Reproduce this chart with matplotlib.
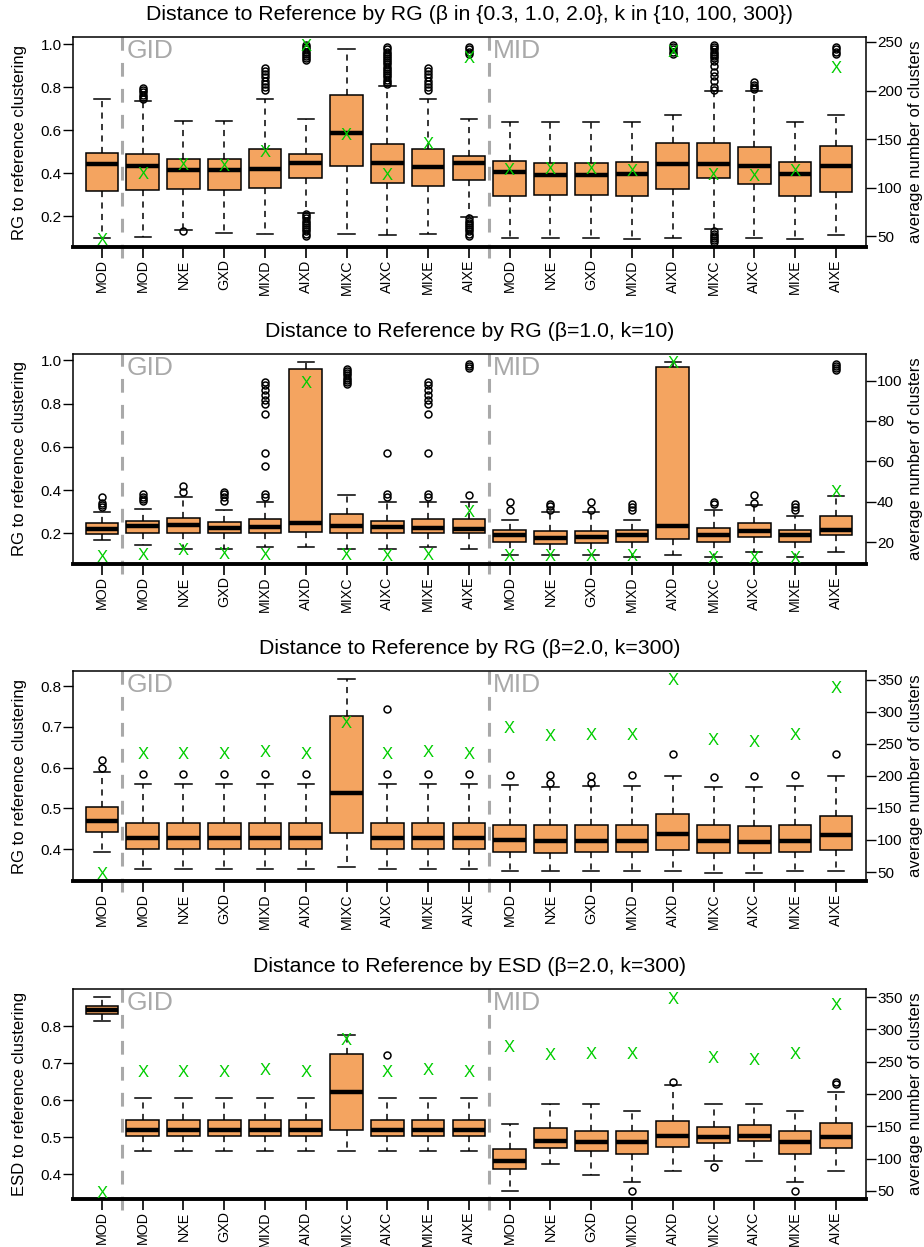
"""Distance-to-reference boxplots, four stacked panels with a cluster-count axis."""

import matplotlib

matplotlib.use("Agg")

import matplotlib.pyplot as plt
from matplotlib.transforms import blended_transform_factory

plt.rcParams["font.family"] = ["Liberation Sans", "DejaVu Sans"]

COLORS = {"box": "#F4A460", "x": "#00CD00", "group": "#A9A9A9"}

LABELS = ["MOD", "MOD", "NXE", "GXD", "MIXD", "AIXD", "MIXC", "AIXC", "MIXE", "AIXE",
          "MOD", "NXE", "GXD", "MIXD", "AIXD", "MIXC", "AIXC", "MIXE", "AIXE"]
POSITIONS = list(range(1, 20))
GROUP_SPLITS = [1.5, 10.5]
GROUP_NAMES = ["GID", "MID"]

# ---- panel 1: RG, beta in {0.3, 1.0, 2.0}, k in {10, 100, 300}
P1_WLO = [0.099, 0.106, 0.137, 0.124, 0.118, 0.217, 0.118, 0.112, 0.118, 0.197,
          0.101, 0.101, 0.101, 0.095, 0.101, 0.140, 0.101, 0.095, 0.113]
P1_Q1 = [0.316, 0.321, 0.328, 0.322, 0.333, 0.378, 0.434, 0.355, 0.341, 0.367,
         0.294, 0.298, 0.297, 0.294, 0.327, 0.376, 0.349, 0.294, 0.311]
P1_MED = [0.445, 0.432, 0.417, 0.414, 0.421, 0.448, 0.588, 0.449, 0.429, 0.446,
          0.404, 0.393, 0.393, 0.397, 0.443, 0.441, 0.432, 0.397, 0.435]
P1_Q3 = [0.496, 0.488, 0.466, 0.466, 0.511, 0.489, 0.763, 0.534, 0.511, 0.482,
         0.457, 0.449, 0.449, 0.452, 0.542, 0.539, 0.522, 0.454, 0.527]
P1_WHI = [0.743, 0.735, 0.641, 0.641, 0.746, 0.653, 0.978, 0.804, 0.746, 0.653,
          0.639, 0.639, 0.639, 0.639, 0.672, 0.780, 0.780, 0.639, 0.672]
P1_FLIERS = [
    [],
    [0.745, 0.755, 0.765, 0.775, 0.785, 0.795],
    [0.130],
    [],
    [0.785, 0.80, 0.815, 0.83, 0.845, 0.86, 0.875, 0.89],
    [0.11, 0.12, 0.13, 0.14, 0.15, 0.16, 0.17, 0.18, 0.19, 0.20, 0.21,
     0.925, 0.935, 0.945, 0.955, 0.965, 0.975, 0.985, 0.995],
    [],
    [0.815, 0.825, 0.835, 0.845, 0.855, 0.865, 0.875, 0.885, 0.895, 0.905,
     0.915, 0.925, 0.935, 0.945, 0.955, 0.965, 0.975, 0.985],
    [0.785, 0.80, 0.815, 0.83, 0.845, 0.86, 0.875, 0.89],
    [0.11, 0.12, 0.13, 0.14, 0.15, 0.16, 0.17, 0.18, 0.19,
     0.955, 0.965, 0.975, 0.985],
    [], [], [], [],
    [0.955, 0.965, 0.975, 0.985, 0.995],
    [0.08, 0.09, 0.10, 0.11, 0.12, 0.13, 0.785, 0.80, 0.83, 0.85, 0.87, 0.90,
     0.92, 0.935, 0.945, 0.955, 0.965, 0.975, 0.985, 0.995],
    [0.79, 0.80, 0.81, 0.825],
    [],
    [0.955, 0.965, 0.975, 0.985],
]
P1_CLUSTERS = [47.6, 115.2, 124.8, 123.4, 137.5, 246.6, 155.3, 113.8, 146.1, 234.6,
               119.6, 120.7, 120.7, 117.9, 240.4, 114.5, 112.8, 117.9, 224.3]

# ---- panel 2: RG, beta=1.0, k=10
P2_WLO = [0.169, 0.145, 0.129, 0.129, 0.137, 0.137, 0.129, 0.129, 0.137, 0.129,
          0.102, 0.102, 0.102, 0.093, 0.102, 0.093, 0.114, 0.093, 0.114]
P2_Q1 = [0.197, 0.203, 0.202, 0.200, 0.202, 0.206, 0.202, 0.200, 0.202, 0.200,
         0.159, 0.152, 0.155, 0.159, 0.174, 0.160, 0.185, 0.160, 0.192]
P2_MED = [0.222, 0.232, 0.237, 0.225, 0.231, 0.248, 0.232, 0.228, 0.225, 0.222,
          0.194, 0.180, 0.185, 0.191, 0.232, 0.194, 0.212, 0.194, 0.217]
P2_Q3 = [0.246, 0.257, 0.269, 0.255, 0.265, 0.962, 0.292, 0.258, 0.265, 0.266,
         0.218, 0.212, 0.212, 0.217, 0.968, 0.223, 0.246, 0.217, 0.281]
P2_WHI = [0.300, 0.315, 0.370, 0.306, 0.346, 0.991, 0.378, 0.346, 0.346, 0.346,
          0.263, 0.297, 0.297, 0.263, 0.992, 0.309, 0.332, 0.281, 0.375]
P2_FLIERS = [
    [0.32, 0.33, 0.34, 0.37],
    [0.35, 0.36, 0.37, 0.38],
    [0.39, 0.417],
    [0.35, 0.37, 0.38, 0.39],
    [0.37, 0.38, 0.51, 0.573, 0.75, 0.80, 0.816, 0.839, 0.862, 0.885, 0.90],
    [],
    [0.89, 0.90, 0.91, 0.92, 0.93, 0.94, 0.95, 0.96],
    [0.37, 0.38, 0.573],
    [0.37, 0.38, 0.573, 0.75, 0.80, 0.816, 0.839, 0.862, 0.885, 0.90],
    [0.378, 0.965, 0.975, 0.985],
    [0.306, 0.347],
    [0.31, 0.325, 0.337],
    [0.31, 0.347],
    [0.306, 0.32, 0.335],
    [],
    [0.335, 0.347],
    [0.34, 0.378],
    [0.31, 0.32, 0.335],
    [0.955, 0.965, 0.975, 0.985],
]
P2_CLUSTERS = [13.1, 14.4, 16.9, 14.7, 14.2, 99.2, 14.4, 13.9, 14.2, 35.3,
               13.9, 13.9, 13.9, 13.9, 109.2, 12.9, 12.9, 12.9, 45.6]

# ---- panel 3: RG, beta=2.0, k=300
P3_WLO = [0.394, 0.352, 0.352, 0.352, 0.352, 0.352, 0.357, 0.352, 0.352, 0.352,
          0.345, 0.345, 0.345, 0.345, 0.345, 0.341, 0.341, 0.345, 0.345]
P3_Q1 = [0.443, 0.400, 0.400, 0.400, 0.400, 0.400, 0.440, 0.400, 0.400, 0.400,
         0.394, 0.391, 0.392, 0.392, 0.398, 0.391, 0.390, 0.392, 0.398]
P3_MED = [0.468, 0.427, 0.427, 0.427, 0.427, 0.427, 0.538, 0.427, 0.427, 0.427,
          0.422, 0.419, 0.419, 0.420, 0.436, 0.419, 0.417, 0.420, 0.434]
P3_Q3 = [0.503, 0.465, 0.465, 0.465, 0.465, 0.465, 0.726, 0.465, 0.465, 0.465,
         0.460, 0.458, 0.458, 0.458, 0.485, 0.458, 0.456, 0.458, 0.481]
P3_WHI = [0.589, 0.561, 0.561, 0.561, 0.561, 0.561, 0.819, 0.561, 0.561, 0.561,
          0.558, 0.553, 0.555, 0.554, 0.580, 0.553, 0.552, 0.554, 0.580]
P3_FLIERS = [
    [0.598, 0.619],
    [0.585], [0.585], [0.585], [0.585], [0.585],
    [],
    [0.585, 0.743], [0.585], [0.585],
    [0.581], [0.562, 0.581], [0.563, 0.58], [0.583], [0.633],
    [0.578], [0.579], [0.582], [0.633],
]
P3_CLUSTERS = [47.9, 235.0, 235.0, 235.0, 238.1, 235.0, 284.7, 235.0, 238.1, 235.0,
               275.9, 263.0, 266.0, 266.0, 351.5, 256.7, 253.6, 266.0, 339.0]

# ---- panel 4: ESD, beta=2.0, k=300
P4_WLO = [0.813, 0.462, 0.462, 0.462, 0.462, 0.462, 0.462, 0.462, 0.462, 0.462,
          0.354, 0.429, 0.399, 0.380, 0.409, 0.436, 0.437, 0.380, 0.409]
P4_Q1 = [0.832, 0.504, 0.504, 0.504, 0.504, 0.504, 0.519, 0.504, 0.504, 0.504,
         0.414, 0.470, 0.464, 0.454, 0.473, 0.485, 0.489, 0.454, 0.470]
P4_MED = [0.844, 0.520, 0.520, 0.520, 0.520, 0.520, 0.622, 0.520, 0.520, 0.520,
          0.436, 0.491, 0.487, 0.487, 0.503, 0.501, 0.504, 0.487, 0.501]
P4_Q3 = [0.854, 0.547, 0.547, 0.547, 0.547, 0.547, 0.724, 0.547, 0.547, 0.547,
         0.467, 0.524, 0.516, 0.516, 0.543, 0.528, 0.534, 0.516, 0.538]
P4_WHI = [0.878, 0.606, 0.606, 0.606, 0.606, 0.606, 0.775, 0.606, 0.606, 0.606,
          0.537, 0.590, 0.590, 0.571, 0.640, 0.589, 0.590, 0.571, 0.622]
P4_FLIERS = [
    [], [], [], [], [], [], [],
    [0.723], [], [],
    [], [], [],
    [0.354], [0.650], [0.421], [], [0.354], [0.643, 0.650],
]
P4_CLUSTERS = [47.9, 235.6, 235.6, 235.6, 238.7, 235.6, 284.5, 235.6, 238.7, 235.6,
               273.7, 262.4, 263.9, 263.9, 349.0, 256.7, 253.6, 263.9, 338.7]

PANELS = [
    dict(title="Distance to Reference by RG (\u03b2 in {0.3, 1.0, 2.0}, k in {10, 100, 300})",
         ylabel="RG to reference clustering",
         stats=(P1_WLO, P1_Q1, P1_MED, P1_Q3, P1_WHI, P1_FLIERS), clusters=P1_CLUSTERS,
         yticks=[0.2, 0.4, 0.6, 0.8, 1.0], ylim=(0.0576, 1.0325),
         rticks=[50, 100, 150, 200, 250], rlim=(39.0, 255.1), top=37),
    dict(title="Distance to Reference by RG (\u03b2=1.0, k=10)",
         ylabel="RG to reference clustering",
         stats=(P2_WLO, P2_Q1, P2_MED, P2_Q3, P2_WHI, P2_FLIERS), clusters=P2_CLUSTERS,
         yticks=[0.2, 0.4, 0.6, 0.8, 1.0], ylim=(0.0587, 1.029),
         rticks=[20, 40, 60, 80, 100], rlim=(9.3, 113.1), top=354),
    dict(title="Distance to Reference by RG (\u03b2=2.0, k=300)",
         ylabel="RG to reference clustering",
         stats=(P3_WLO, P3_Q1, P3_MED, P3_Q3, P3_WHI, P3_FLIERS), clusters=P3_CLUSTERS,
         yticks=[0.4, 0.5, 0.6, 0.7, 0.8], ylim=(0.3216, 0.8375),
         rticks=[50, 100, 150, 200, 250, 300, 350], rlim=(36.0, 363.5), top=671),
    dict(title="Distance to Reference by ESD (\u03b2=2.0, k=300)",
         ylabel="ESD to reference clustering",
         stats=(P4_WLO, P4_Q1, P4_MED, P4_Q3, P4_WHI, P4_FLIERS), clusters=P4_CLUSTERS,
         yticks=[0.4, 0.5, 0.6, 0.7, 0.8], ylim=(0.3335, 0.8998),
         rticks=[50, 100, 150, 200, 250, 300, 350], rlim=(37.6, 362.4), top=989),
]

FIG_W, FIG_H = 924, 1247
AX_LEFT, AX_RIGHT, AX_HEIGHT = 73, 866, 210


def draw_panel(fig, panel):
    rect = [AX_LEFT / FIG_W, 1 - (panel["top"] + AX_HEIGHT) / FIG_H,
            (AX_RIGHT - AX_LEFT) / FIG_W, AX_HEIGHT / FIG_H]
    ax = fig.add_axes(rect)
    wlo, q1, med, q3, whi, fliers = panel["stats"]
    stats = [dict(whislo=a, q1=b, med=c, q3=d, whishi=e, fliers=f)
             for a, b, c, d, e, f in zip(wlo, q1, med, q3, whi, fliers)]
    ax.bxp(stats, positions=POSITIONS, widths=0.8, capwidths=0.4, patch_artist=True,
           boxprops=dict(facecolor=COLORS["box"], edgecolor="black", linewidth=1.1),
           medianprops=dict(color="black", linewidth=3.2, solid_capstyle="butt"),
           whiskerprops=dict(color="black", linewidth=1.1, linestyle=(0, (4, 3.5))),
           capprops=dict(color="black", linewidth=1.1),
           flierprops=dict(marker="o", markerfacecolor="none", markeredgecolor="black",
                           markersize=5, markeredgewidth=1.1))
    ax.set_xlim(0.29, 19.74)
    ax.set_ylim(*panel["ylim"])
    ax.set_yticks(panel["yticks"])
    ax.set_yticklabels([f"{t:.1f}" for t in panel["yticks"]])
    ax.set_xticks(POSITIONS)
    ax.set_xticklabels(LABELS, rotation=90, fontsize=10.3)
    ax.tick_params(axis="y", length=7, width=1, pad=1, labelsize=11)
    ax.tick_params(axis="x", length=8, width=1.2, pad=1)
    for side in ["top", "left", "right"]:
        ax.spines[side].set_linewidth(1.1)
    ax.spines["bottom"].set_linewidth(2.8)
    ax.set_ylabel(panel["ylabel"], fontsize=12)
    ax.yaxis.set_label_coords(-0.058, 0.5)
    ax.set_title(panel["title"], fontsize=15.3, pad=12)

    trans = blended_transform_factory(ax.transData, ax.transAxes)
    for split, name in zip(GROUP_SPLITS, GROUP_NAMES):
        ax.axvline(split, ymin=-0.05, ymax=1, clip_on=False, color=COLORS["group"],
                   linewidth=2.2, dashes=(4.5, 4))
        ax.text(split + 0.1, 0.99, name, transform=trans, ha="left", va="top",
                fontsize=19, color=COLORS["group"])

    right = ax.twinx()
    right.set_ylim(*panel["rlim"])
    right.set_yticks(panel["rticks"])
    right.tick_params(axis="y", length=7, width=1, pad=1, labelsize=11)
    right.set_ylabel("average number of clusters", fontsize=12)
    right.yaxis.set_label_coords(1.053, 0.5)
    for side in right.spines:
        right.spines[side].set_visible(False)
    for x, value in zip(POSITIONS, panel["clusters"]):
        right.text(x, value, "X", color=COLORS["x"], ha="center",
                   va="center_baseline", fontsize=12)


fig = plt.figure(figsize=(FIG_W / 100, FIG_H / 100), dpi=100)
for panel in PANELS:
    draw_panel(fig, panel)
fig.savefig("out.png", dpi=100)
